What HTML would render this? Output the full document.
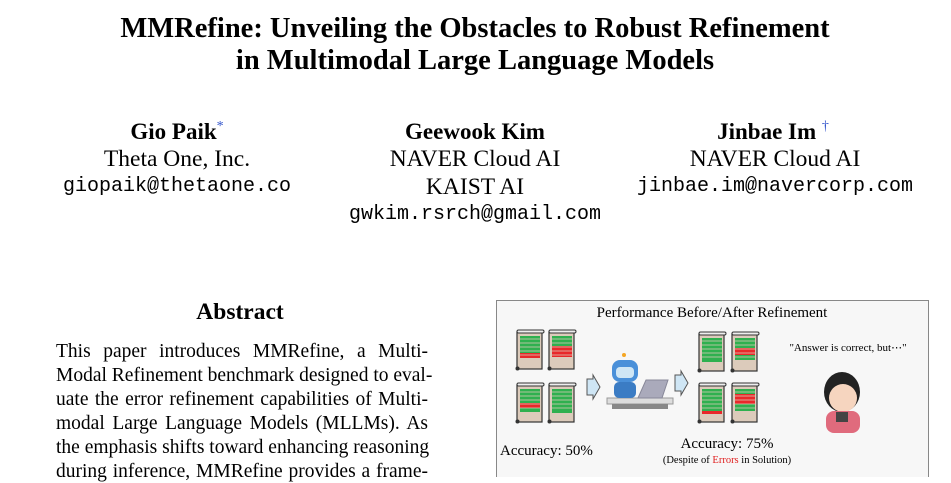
<!DOCTYPE html>
<html><head><meta charset="utf-8"><style>
body{margin:0;width:951px;height:477px;background:#fff;position:relative;overflow:hidden;font-family:"Liberation Serif",serif;color:#000}
.a{position:absolute;white-space:nowrap}
.c{transform:translateX(-50%)}
.t{font-weight:bold;font-size:28.5px;left:475px}
.nm{font-weight:bold;font-size:23px}
.af{font-size:23.5px}
.em{font-family:"Liberation Mono",monospace;font-size:20px}
.ln{position:absolute;left:56px;width:372px;font-size:19.5px;text-align:justify;text-align-last:justify;white-space:nowrap}
</style></head><body>
<div class="a c t" style="top:13px">MMRefine: Unveiling the Obstacles to Robust Refinement</div>
<div class="a c t" style="top:45px">in Multimodal Large Language Models</div>

<div class="a c nm" style="left:177px;top:119px">Gio Paik<span style="color:#3355cc;font-weight:normal;font-size:14px;vertical-align:top">*</span></div>
<div class="a c af" style="left:177px;top:146px">Theta One, Inc.</div>
<div class="a c em" style="left:177px;top:175px">giopaik@thetaone.co</div>

<div class="a c nm" style="left:475px;top:119px">Geewook Kim</div>
<div class="a c af" style="left:475px;top:146px">NAVER Cloud AI</div>
<div class="a c af" style="left:475px;top:174px">KAIST AI</div>
<div class="a c em" style="left:475px;top:203px">gwkim.rsrch@gmail.com</div>

<div class="a c nm" style="left:773px;top:119px">Jinbae Im <span style="color:#3355cc;font-weight:normal;font-size:14px;vertical-align:top">†</span></div>
<div class="a c af" style="left:775px;top:146px">NAVER Cloud AI</div>
<div class="a c em" style="left:775px;top:175px">jinbae.im@navercorp.com</div>

<div class="a c" style="left:240px;top:299px;font-size:23.5px;font-weight:bold">Abstract</div>
<div class="ln" style="top:341px">This paper introduces MMRefine, a Multi-</div>
<div class="ln" style="top:365px">Modal Refinement benchmark designed to eval-</div>
<div class="ln" style="top:389px">uate the error refinement capabilities of Multi-</div>
<div class="ln" style="top:413px">modal Large Language Models (MLLMs). As</div>
<div class="ln" style="top:437px">the emphasis shifts toward enhancing reasoning</div>
<div class="ln" style="top:461px">during inference, MMRefine provides a frame-</div>

<svg class="a" style="left:0;top:0" width="951" height="477">
<defs>
<g id="sc">
<rect x="1" y="2" width="25" height="37" fill="#dccbbb" stroke="#333" stroke-width="1.2"/>
<rect x="1" y="0" width="27" height="3" rx="1.5" fill="#eee" stroke="#333"/>
<circle cx="1.5" cy="38.5" r="2" fill="#333"/>
</g>
</defs>
<rect x="496.5" y="300.5" width="432" height="180" fill="#f7f7f7" stroke="#888"/>
<text x="712" y="317" font-size="15" text-anchor="middle" font-family="Liberation Serif">Performance Before/After Refinement</text>
<g transform="translate(516,330)"><use href="#sc"/><rect x="4" y="6" width="20" height="17" fill="#2fb04f"/><rect x="4" y="23" width="20" height="5" fill="#e8282a"/></g>
<g transform="translate(548,330)"><use href="#sc"/><rect x="4" y="6" width="20" height="10" fill="#2fb04f"/><rect x="4" y="16" width="20" height="11" fill="#e8282a"/></g>
<g transform="translate(516,383)"><use href="#sc"/><rect x="4" y="6" width="20" height="14" fill="#2fb04f"/><rect x="4" y="20" width="20" height="5" fill="#e8282a"/><rect x="4" y="25" width="20" height="4" fill="#2fb04f"/></g>
<g transform="translate(548,383)"><use href="#sc"/><rect x="4" y="6" width="20" height="24" fill="#2fb04f"/></g>
<g transform="translate(698,332)"><use href="#sc"/><rect x="4" y="6" width="20" height="24" fill="#2fb04f"/></g>
<g transform="translate(731,332)"><use href="#sc"/><rect x="4" y="6" width="20" height="10" fill="#2fb04f"/><rect x="4" y="16" width="20" height="7" fill="#e8282a"/><rect x="4" y="23" width="20" height="5" fill="#2fb04f"/></g>
<g transform="translate(698,383)"><use href="#sc"/><rect x="4" y="6" width="20" height="22" fill="#2fb04f"/><rect x="4" y="28" width="20" height="3" fill="#e8282a"/></g>
<g transform="translate(731,383)"><use href="#sc"/><rect x="4" y="6" width="20" height="5" fill="#2fb04f"/><rect x="4" y="11" width="20" height="10" fill="#e8282a"/><rect x="4" y="21" width="20" height="7" fill="#2fb04f"/></g>
<g stroke="#dccbbb" stroke-width="0.8">
<path d="M520 339h20M520 343h20M520 347h20M520 351h20M520 355h20M552 339h20M552 343h20M552 347h20M552 351h20M552 355h20M520 392h20M520 396h20M520 400h20M520 404h20M520 408h20M552 392h20M552 396h20M552 400h20M552 404h20M552 408h20M702 341h20M702 345h20M702 349h20M702 353h20M702 357h20M735 341h20M735 345h20M735 349h20M735 353h20M735 357h20M702 392h20M702 396h20M702 400h20M702 404h20M702 408h20M735 392h20M735 396h20M735 400h20M735 404h20M735 408h20"/>
</g>
<path d="M587 379h6v-4l7 12-7 12v-4h-6z" fill="#cfe6f5" stroke="#555"/>
<path d="M675 375h6v-4l7 12-7 12v-4h-6z" fill="#cfe6f5" stroke="#555"/>
<rect x="607" y="398" width="66" height="6" fill="#ddd" stroke="#999"/>
<rect x="612" y="404" width="56" height="5" fill="#888"/>
<circle cx="624" cy="355" r="2" fill="#f5a623"/>
<rect x="612" y="360" width="26" height="22" rx="8" fill="#4a90d9"/>
<rect x="616" y="367" width="18" height="11" rx="4" fill="#cfe6f5"/>
<rect x="614" y="382" width="22" height="16" rx="5" fill="#3b7cc4"/>
<path d="M638 398l8-18h22l-6 18z" fill="#aab" stroke="#889"/>
<ellipse cx="842" cy="392" rx="18" ry="20" fill="#222"/>
<ellipse cx="843" cy="398" rx="14" ry="14" fill="#f6d5bf"/>
<rect x="826" y="411" width="34" height="22" rx="8" fill="#e06b7d"/>
<rect x="836" y="412" width="12" height="10" fill="#444"/>
<text x="848" y="351" font-size="11" text-anchor="middle" font-family="Liberation Serif">"Answer is correct, but⋯"</text>
<text x="500" y="455" font-size="15" font-family="Liberation Serif">Accuracy: 50%</text>
<text x="727" y="448" font-size="15" text-anchor="middle" font-family="Liberation Serif">Accuracy: 75%</text>
<text x="727" y="463" font-size="10.5" text-anchor="middle" font-family="Liberation Serif">(Despite of <tspan fill="#e02020">Errors</tspan> in Solution)</text>
</svg>
</body></html>
